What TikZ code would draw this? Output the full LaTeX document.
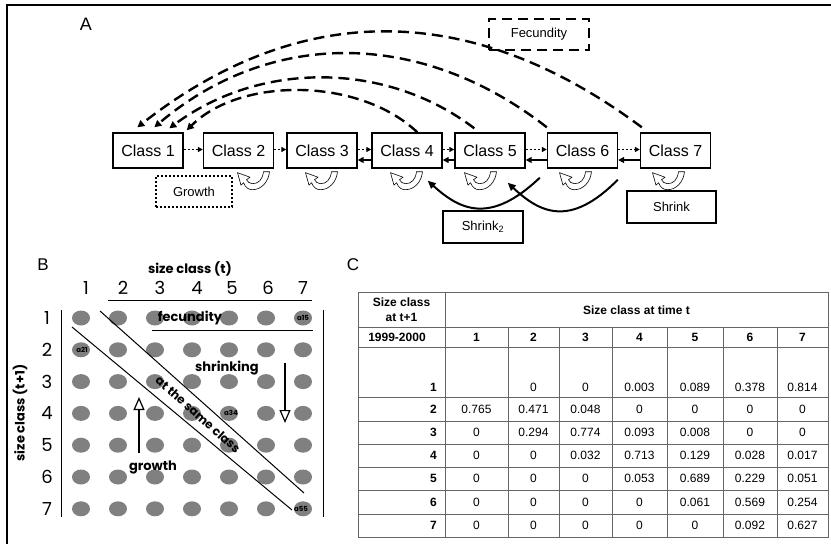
\documentclass[tikz,border=0pt]{standalone}
\usepackage{fontspec}
\setmainfont{Liberation Sans}
\newfontfamily\geo{Poppins}
\usetikzlibrary{arrows.meta,calc}
\begin{document}
\begin{tikzpicture}[x=1pt,y=-1pt,
  classbox/.style={draw,line width=1.4pt,minimum width=70pt,minimum height=35pt,inner sep=0pt,font=\fontsize{16}{18}\selectfont},
  labelbox/.style={draw,line width=2.4pt,inner sep=0pt,font=\fontsize{13}{15}\selectfont},
  fecarc/.style={line width=2.4pt,dash pattern=on 11pt off 6pt,-{Triangle[length=7pt,width=7pt]}},
  grwarrow/.style={line width=1.8pt,dash pattern=on 1.8pt off 2.2pt,-{Triangle[length=5pt,width=5pt]}},
  shrarrow/.style={line width=2pt,-{Triangle[length=6pt,width=6pt]}},
  stwoarrow/.style={line width=2pt,-{Triangle[length=8pt,width=7pt]}},
  paneltag/.style={font=\fontsize{18}{20}\selectfont},
  dotgray/.style={fill=black!50},
  geolabel/.style={font=\geo\bfseries\fontsize{13}{15}\selectfont,inner sep=0pt},
  geonum/.style={font=\geo\fontsize{18}{20}\selectfont,inner sep=0pt},
  tinylab/.style={font=\geo\bfseries\fontsize{7}{8}\selectfont,inner sep=0pt},
  thinln/.style={line width=1pt},
  openarrow/.style={line width=1.2pt,-{Triangle[open,length=13pt,width=11pt,fill=white]}},
  tabline/.style={draw=black!60,line width=0.7pt},
  tabhead/.style={font=\bfseries\fontsize{12}{14}\selectfont,inner sep=0pt},
  tabval/.style={font=\fontsize{12}{14}\selectfont,inner sep=0pt},
  uturn/.pic={\filldraw[fill=white,line width=0.6pt,line join=round]
    (17,0) -- (11,0) .. controls (10,8) and (6,12) .. (0,12)
    .. controls (-3,12) and (-5,10) .. (-6,8) -- (-2.5,5.5) -- (-15,1)
    -- (-11.5,13.5) -- (-9,11) .. controls (-7,16) and (-4,18) .. (0,18)
    .. controls (9,18) and (16,10) .. (17,0) -- cycle;}
]
\useasboundingbox (0,0) rectangle (831,544);
% frame
\draw[line width=2pt] (6.5,544) -- (6.5,5) -- (831,5);

% ================= Panel A =================
\node[paneltag] (tagA) at (86,24) {A};
\node[classbox] (c1) at (148,150.5) {Class 1};
\node[classbox] (c2) at (238.5,150.5) {Class 2};
\node[classbox] (c3) at (322,150.5) {Class 3};
\node[classbox] (c4) at (407,150.5) {Class 4};
\node[classbox] (c5) at (490,150.5) {Class 5};
\node[classbox] (c6) at (582.5,150.5) {Class 6};
\node[classbox] (c7) at (675.5,150.5) {Class 7};

\node[labelbox,line width=1.8pt,dash pattern=on 2pt off 2pt,minimum width=76pt,minimum height=31pt] (grow) at (194,191.5) {Growth};
\node[labelbox,dash pattern=on 10pt off 6pt,minimum width=100pt,minimum height=31pt] (fec) at (539,34.5) {Fecundity};
\node[labelbox,minimum width=89pt,minimum height=32pt] (shr) at (671.5,207) {Shrink};
\node[labelbox,minimum width=80pt,minimum height=32pt] (shr2) at (483,227) {Shrink\textsubscript{2}};

% fecundity arcs
\draw[fecarc] ($(c7.north west)+(2,-5)$) .. controls (471,0) and (300,0) .. ($(c1.north west)+(25,-5)$);
\draw[fecarc] ($(c6.north west)+(0,-5)$) .. controls (421,29) and (270,29) .. ($(c1.north west)+(42,-5)$);
\draw[fecarc] ($(c5.north west)+(20,-4)$) .. controls (386,61) and (260,61) .. ($(c1.north west)+(57,-4)$);
\draw[fecarc] ($(c4.north west)+(46,0)$) .. controls (359,77) and (240,77) .. ($(c1.north east)+(3,-2)$);

% growth (dotted)
\draw[grwarrow] ($(c1.east)+(0,-1)$) -- ($(c2.west)+(0,-1)$);
\draw[grwarrow] ($(c2.east)+(0,-1)$) -- ($(c3.west)+(0,-1)$);
\draw[grwarrow] ($(c3.east)+(0,-1)$) -- ($(c4.west)+(0,-1)$);
\draw[grwarrow] ($(c4.east)+(0,-1)$) -- ($(c5.west)+(0,-1)$);
\draw[grwarrow] ($(c5.east)+(0,-1)$) -- ($(c6.west)+(0,-1)$);
\draw[grwarrow] ($(c6.east)+(0,-1)$) -- ($(c7.west)+(0,-1)$);

% shrink (solid)
\draw[shrarrow] ($(c4.west)+(0,9.5)$) -- ($(c3.east)+(0,9.5)$);
\draw[shrarrow] ($(c5.west)+(0,9.5)$) -- ($(c4.east)+(0,9.5)$);
\draw[shrarrow] ($(c6.west)+(0,9.5)$) -- ($(c5.east)+(0,9.5)$);
\draw[shrarrow] ($(c7.west)+(0,9.5)$) -- ($(c6.east)+(0,9.5)$);

% stasis loops
\pic at ($(c2.south)+(14,3)$) {uturn};
\pic at ($(c3.south)+(-1.5,3)$) {uturn};
\pic at ($(c4.south)+(-1.5,3)$) {uturn};
\pic at ($(c5.south)+(-10.5,3)$) {uturn};
\pic at ($(c6.south)+(-8,3)$) {uturn};
\pic at ($(c7.south)+(-8,3)$) {uturn};

% shrink by two
\draw[stwoarrow] ($(c6.south west)+(-7,9)$) .. controls (490,225) and (460,210) .. ($(c4.south east)+(-15,12)$);
\draw[stwoarrow] ($(c7.south west)+(-22,11)$) .. controls (570,228) and (540,213) .. ($(c5.south east)+(-18,14)$);

% ================= Panel B =================
\node[paneltag,font=\fontsize{17}{19}\selectfont] (tagB) at (43,265) {B};
\foreach \r in {1,...,7}
  \foreach \c in {1,...,7}
    \fill[dotgray] ({81+37*(\c-1)},{318+31.8*(\r-1)}) ellipse [x radius=9pt, y radius=7.5pt];

\node[geolabel] (sct) at (190,269) {size class (t)};
\foreach \x [count=\c] in {86,123,160,197,232,268,303}
  \node[geonum] (col\c) at (\x,288) {\c};
\foreach \r in {1,...,7}
  \node[geonum] (row\r) at (47,{318+31.8*(\r-1)}) {\r};
\node[geolabel,rotate=90] (sct1) at (20,413) {size class (t+1)};

\draw[thinln] (108,300) -- (312,300);
\draw[thinln] (152,330) -- (313,330);
\draw[thinln] (61,310) -- (61,517);
\draw[thinln] (323,310) -- (323,517);
\draw[thinln] (100,311) -- (304,493);
\draw[thinln] (72,327) -- (292,510);

\node[geolabel] (fecB) at (190,318) {fecundity};
\node[geolabel] (shrB) at (227,368) {shrinking};
\node[geolabel] (grwB) at (153,467) {growth};
\node[geolabel,font=\geo\bfseries\fontsize{12}{14}\selectfont,rotate=-41.7] (same) at (198,414.5) {at the same class};
\node[tinylab] (a15) at (303,318) {a15};
\node[tinylab] (a21) at (82,349.8) {a21};
\node[tinylab] (a34) at (231,413.4) {a34};
\node[tinylab] (a55) at (301,508.8) {a55};

\coordinate (gA) at (139,453);
\coordinate (gB) at (139,397);
\coordinate (sA) at (285,363);
\coordinate (sB) at (285,423);
\draw[openarrow] (gA) -- (gB);
\draw[openarrow] (sA) -- (sB);

% ================= Panel C =================
\node[paneltag,font=\fontsize{17}{19}\selectfont] (tagC) at (353,265) {C};
\draw[tabline] (358,292) rectangle (828,537);
\foreach \y in {327,347,397,421,444,467,490,514}
  \draw[tabline] (358,\y) -- (828,\y);
\draw[tabline] (445,292) -- (445,537);
\foreach \x in {508,559,612,667,723,777}
  \draw[tabline] (\x,327) -- (\x,537);

\node[tabhead,align=center] (h1) at (401.5,310) {Size class\\[1pt]at t+1};
\node[tabhead] (h2) at (636.5,310) {Size class at time t};
\node[tabhead] (yr) at (397,337) {1999-2000};
\foreach \x [count=\c] in {476.5,533.5,585.5,639.5,695,750,802.5}
  \node[tabhead] (hc\c) at (\x,337) {\c};

\foreach \r/\y/\vals in {
  1/387/{,0,0,0.003,0.089,0.378,0.814},
  2/409/{0.765,0.471,0.048,0,0,0,0},
  3/432.5/{0,0.294,0.774,0.093,0.008,0,0},
  4/455.5/{0,0,0.032,0.713,0.129,0.028,0.017},
  5/478.5/{0,0,0,0.053,0.689,0.229,0.051},
  6/502/{0,0,0,0,0.061,0.569,0.254},
  7/525.5/{0,0,0,0,0,0.092,0.627}}{
  \node[tabhead,anchor=east] (rl\r) at (437,\y) {\r};
  \foreach \v [count=\c] in \vals {
    \pgfmathsetmacro\xx{{476.5,533.5,585.5,639.5,695,750,802.5}[\c-1]}
    \node[tabval] (v\r\c) at (\xx,\y) {\v};
  }
}
\end{tikzpicture}
\end{document}
